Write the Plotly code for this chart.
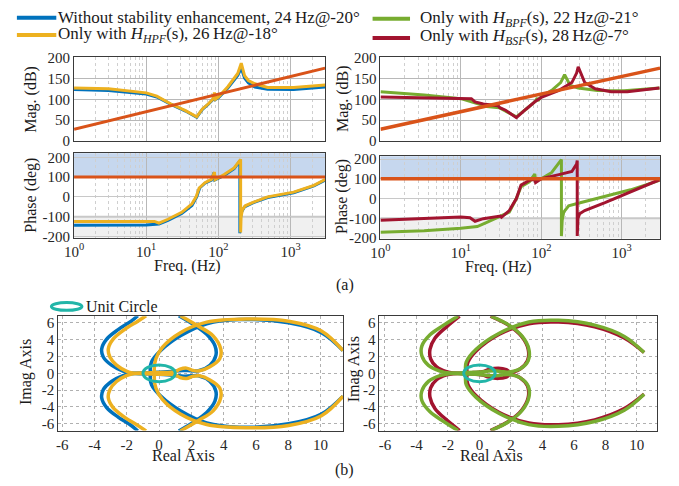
import plotly.graph_objects as go

W, H = 679, 486
FONT = "Liberation Serif"

# ---------------- DATA ----------------
# (a) left: magnitude (dB)
magL_f = [1, 3, 10, 14, 22, 35, 50, 60, 72, 84, 88, 91, 100, 135, 185, 207, 230, 260, 320, 480, 1100, 3000]
mag_blue = [124, 122, 113, 106, 88, 72, 57, 76, 88, 100, 114, 100, 104, 128, 158, 176, 152, 140, 130, 125, 124, 130]
mag_yellow = [128, 126, 116, 108, 89, 73, 58, 77, 89, 101, 117, 101, 106, 131, 163, 188, 158, 146, 138, 129, 129, 135]
mag_ref_f = [1, 3000]
mag_ref = [28, 176]

# (a) left: phase (deg)
phB_f = [1, 10, 15, 20, 31, 43, 50, 55, 65, 80, 87, 89, 120, 165, 198, 198, 201, 210, 230, 300, 480, 1100, 2100, 3000]
ph_blue = [-143, -142, -137, -119, -84, -44, 0, 45, 69, 85, 123, 85, 108, 142, 182, -184, -110, -75, -50, -30, -3, 21, 56, 85]
phY_f = [1, 10, 13, 15, 20, 31, 43, 49, 54, 65, 80, 88, 90, 120, 165, 203, 203, 206, 215, 235, 300, 480, 1100, 2100, 3000]
ph_yellow = [-125, -122, -124, -133, -113, -78, -35, 0, 45, 72, 88, 125, 88, 113, 146, 190, -180, -100, -65, -45, -28, 0, 24, 58, 88]
ph_ref_f = [1, 3000]
ph_ref = [100, 100]

# (a) right: magnitude (dB)
magG_f = [1, 3.5, 10, 14.5, 21, 30, 36, 49, 65, 85, 89, 91, 100, 135, 174, 195, 229, 288, 500, 1070, 2950]
mag_green = [119, 111, 102, 92, 83, 80, 72, 58, 77, 96, 104, 97, 107, 122, 141, 160, 134, 128, 122, 121, 128]
magR_f = [1, 10, 13.5, 15, 19, 29, 30.5, 36, 49, 65, 85, 100, 166, 240, 275, 288, 347, 468, 740, 1175, 2950]
mag_red = [106, 102, 102, 94, 89, 85, 80, 74, 56, 77, 96, 105, 122, 141, 164, 179, 141, 126, 119, 119, 128]

# (a) right: phase (deg)
phG_f = [1, 3.5, 10, 16, 21, 30, 40, 49, 56, 71, 83, 85, 100, 135, 178, 178, 182, 190, 219, 288, 620, 1290, 2950]
ph_green = [-171, -163, -150, -142, -121, -94, -69, 0, 60, 84, 124, 92, 100, 132, 197, -190, -110, -69, -37, -24, 11, 44, 92]
phR_f = [1, 10, 13, 15, 19, 25, 31, 32, 40, 49, 56, 71, 83, 85, 100, 166, 240, 275, 280, 280, 286, 300, 347, 620, 1290, 2950]
ph_red = [-110, -94, -97, -115, -102, -94, -89, -95, -61, 0, 68, 92, 97, 81, 100, 121, 137, 175, 192, -190, -100, -77, -61, -21, 35, 95]

# (b) left Nyquist (upper half; lower half is the complex conjugate)
nqB_re = [-1.32, -1.73, -2.54, -3.25, -3.56, -3.46, -2.95, -2.24, -1.73, -1.0, 0.0, 1.0, 1.5, 2.0, 2.44, 3.15, 3.52, 3.46, 2.95, 2.13, 1.22]
nqB_im = [6.85, 6.2, 5.2, 4.07, 2.9, 1.94, 0.97, 0.27, 0.04, 0.05, 0.12, 0.25, 0.35, 0.3, 0.3, 0.97, 2.13, 3.3, 4.65, 5.81, 6.85]
nqY_re = [-0.81, -1.32, -2.13, -2.85, -3.15, -3.05, -2.64, -2.03, -1.63, -1.0, 0.0, 1.0, 1.3, 1.7, 2.1, 2.5, 3.15, 3.76, 3.82, 3.35, 2.44, 1.32]
nqY_im = [6.85, 6.2, 5.23, 4.07, 2.9, 1.94, 0.97, 0.27, 0.04, 0.05, 0.1, 0.2, 0.5, 0.62, 0.35, 0.3, 0.78, 1.74, 2.9, 4.46, 5.6, 6.85]
elB_re = [11.4, 10.06, 8.03, 4.98, 2.95, 1.32, 0.1, -0.47, -0.55, -0.5]
elB_im = [2.71, 4.84, 6.0, 6.4, 5.9, 4.46, 2.71, 1.36, 0.39, 0.0]
elY_re = [11.4, 10.06, 8.03, 5.39, 2.95, 1.32, 0.2, -0.2, -0.3, -0.26]
elY_im = [2.71, 5.04, 6.2, 6.47, 6.09, 4.84, 3.1, 1.74, 0.39, 0.0]

# (b) right Nyquist
nqG_re = [-1.36, -2.3, -3.14, -3.66, -3.66, -3.24, -2.51, -1.88, -1.0, 0.0, 0.5, 1.0, 1.4, 1.88, 2.62, 3.1, 3.14, 2.72, 1.88, 0.73]
nqG_im = [6.8, 5.7, 4.58, 3.24, 2.1, 0.95, 0.27, 0.04, 0.08, 0.15, 0.25, 0.3, 0.2, 0.15, 0.57, 1.53, 2.86, 4.39, 5.73, 6.8]
nqR_re = [-1.26, -2.09, -2.82, -3.14, -3.1, -2.72, -2.09, -1.67, -0.5, 0.2, 0.6, 1.2, 1.7, 1.95, 2.6, 3.05, 3.1, 2.68, 1.84, 0.7]
nqR_im = [6.8, 5.53, 4.2, 2.86, 1.72, 0.76, 0.19, 0.04, 0.08, 0.2, 0.45, 0.6, 0.45, 0.15, 0.55, 1.5, 2.86, 4.39, 5.73, 6.8]
elG_re = [10.46, 9.2, 7.32, 5.02, 3.14, 1.26, -0.21, -0.84, -0.88, -0.84]
elG_im = [2.48, 4.39, 5.73, 6.3, 6.1, 4.77, 2.86, 1.34, 0.38, 0.0]
elR_re = [10.46, 9.2, 7.32, 5.02, 3.14, 1.26, -0.21, -0.73, -0.8, -0.75]
elR_im = [2.48, 4.2, 5.53, 6.1, 5.9, 4.66, 2.67, 1.34, 0.38, 0.0]
unit_radius = 1.0

# tick labels
freq_ticks = [1, 10, 100, 1000]
freq_ticktext = ["10<sup>0</sup>", "10<sup>1</sup>", "10<sup>2</sup>", "10<sup>3</sup>"]
mag_ticks = [0, 50, 100, 150, 200]
ph_ticks = [-200, -100, 0, 100, 200]
ph_ticktext = ["-200", "-100", "0", "100", "200"]
re_ticks = [-6, -4, -2, 0, 2, 4, 6, 8, 10]
re_ticktext = ["-6", "-4", "-2", "0", "2", "4", "6", "8", "10"]
im_ticks = [-6, -4, -2, 0, 2, 4, 6]
im_ticktext = ["-6", "-4", "-2", "0", "2", "4", "6"]

legend_labels = [
    "Without stability enhancement, 24\u2009Hz@-20°",
    "Only with <i>H</i><sub><i>HPF</i></sub>(s), 26\u2009Hz@-18°",
    "Only with <i>H</i><sub><i>BPF</i></sub>(s), 22\u2009Hz@-21°",
    "Only with <i>H</i><sub><i>BSF</i></sub>(s), 28\u2009Hz@-7°",
]

# ---------------- STYLE ----------------
BLUE, YEL, ORA, GRN, RED, TEAL = "#0072BD", "#EDB120", "#D95319", "#77AC30", "#A2142F", "#22B5A8"
LBLUE, LGRAY = "#C6D7EE", "#F0F0F0"
FRAME = "#3a3a3a"


def dx(a, b):
    return [a / W, b / W]


def dy(top, bot):
    return [1 - bot / H, 1 - top / H]


def mirror_open(re, im):
    return re + [None] + re, im + [None] + [-v for v in im]


def mirror_closed(re, im):
    return re + re[::-1], im + [-v for v in im[::-1]]


fig = go.Figure()


def add(x, y, color, xa, ya, width=3, shape="linear"):
    fig.add_trace(go.Scatter(x=x, y=y, mode="lines", xaxis=xa, yaxis=ya,
                             line=dict(color=color, width=width, shape=shape),
                             connectgaps=False, showlegend=False, hoverinfo="skip"))


# Bode left
add(magL_f, mag_blue, BLUE, "x", "y")
add(magL_f, mag_yellow, YEL, "x", "y")
add(mag_ref_f, mag_ref, ORA, "x", "y")
add(phB_f, ph_blue, BLUE, "x2", "y2")
add(phY_f, ph_yellow, YEL, "x2", "y2")
add(ph_ref_f, ph_ref, ORA, "x2", "y2")
# Bode right
add(magG_f, mag_green, GRN, "x3", "y3")
add(magR_f, mag_red, RED, "x3", "y3")
add(mag_ref_f, mag_ref, ORA, "x3", "y3", width=3.5)
add(phG_f, ph_green, GRN, "x4", "y4")
add(phR_f, ph_red, RED, "x4", "y4")
add(ph_ref_f, ph_ref, ORA, "x4", "y4", width=3.5)

# Nyquist left
x, y = mirror_open(nqB_re, nqB_im); add(x, y, BLUE, "x5", "y5", 3.5, "spline")
x, y = mirror_closed(elB_re, elB_im); add(x, y, BLUE, "x5", "y5", 3.5, "spline")
x, y = mirror_open(nqY_re, nqY_im); add(x, y, YEL, "x5", "y5", 3.5, "spline")
x, y = mirror_closed(elY_re, elY_im); add(x, y, YEL, "x5", "y5", 3.5, "spline")
# Nyquist right
x, y = mirror_open(nqR_re, nqR_im); add(x, y, RED, "x6", "y6", 3.5, "spline")
x, y = mirror_closed(elR_re, elR_im); add(x, y, RED, "x6", "y6", 3.5, "spline")
x, y = mirror_open(nqG_re, nqG_im); add(x, y, GRN, "x6", "y6", 3.5, "spline")
x, y = mirror_closed(elG_re, elG_im); add(x, y, GRN, "x6", "y6", 3.5, "spline")

tickfont = dict(family=FONT, size=15, color="#262626")
common = dict(showline=True, linecolor=FRAME, linewidth=1, mirror=True, zeroline=False,
              tickfont=tickfont, ticks="", fixedrange=True)
logx = dict(type="log", range=[0, 3.48], tickvals=freq_ticks, ticktext=freq_ticktext,
            showgrid=True, gridcolor="#b8b8b8", gridwidth=1,
            minor=dict(dtick="D1", showgrid=True, gridcolor="#cfcfcf", griddash="dot"), **common)

layout = dict(
    width=W, height=H, margin=dict(l=0, r=0, t=0, b=0),
    paper_bgcolor="white", plot_bgcolor="white", showlegend=False,
    font=dict(family=FONT, size=15, color="#262626"),
    xaxis=dict(domain=dx(65, 320), anchor="y", showticklabels=False, **logx),
    yaxis=dict(domain=dy(52, 138), anchor="x", range=[0, 202], tickvals=mag_ticks,
               showgrid=True, gridcolor="#b8b8b8", **common),
    xaxis2=dict(domain=dx(65, 320), anchor="y2", **logx),
    yaxis2=dict(domain=dy(151, 238), anchor="x2", range=[-206, 220], tickvals=ph_ticks, ticktext=ph_ticktext,
                showgrid=True, gridcolor="#c8c8c8", **common),
    xaxis3=dict(domain=dx(376, 660), anchor="y3", showticklabels=False, **logx),
    yaxis3=dict(domain=dy(52, 138), anchor="x3", range=[0, 202], tickvals=mag_ticks,
                showgrid=True, gridcolor="#b8b8b8", **common),
    xaxis4=dict(domain=dx(376, 660), anchor="y4", **logx),
    yaxis4=dict(domain=dy(154, 239), anchor="x4", range=[-203, 214], tickvals=ph_ticks, ticktext=ph_ticktext,
                showgrid=True, gridcolor="#c8c8c8", **common),
    xaxis5=dict(domain=dx(49, 338), anchor="y5", range=[-6.25, 11.4], tickvals=re_ticks, ticktext=re_ticktext,
                showgrid=True, gridcolor="#b0b0b0", griddash="dot", **common),
    yaxis5=dict(domain=dy(319, 437), anchor="x5", range=[-6.8, 6.8], tickvals=im_ticks, ticktext=im_ticktext,
                showgrid=True, gridcolor="#b0b0b0", griddash="dot", **common),
    xaxis6=dict(domain=dx(375, 657), anchor="y6", range=[-6.35, 11.3], tickvals=re_ticks, ticktext=re_ticktext,
                showgrid=True, gridcolor="#b0b0b0", griddash="dot", **common),
    yaxis6=dict(domain=dy(319, 437), anchor="x6", range=[-6.8, 6.8], tickvals=im_ticks, ticktext=im_ticktext,
                showgrid=True, gridcolor="#b0b0b0", griddash="dot", **common),
)
fig.update_layout(**layout)

shapes = []
for xr, yr in (("x2", "y2"), ("x4", "y4")):
    shapes.append(dict(type="rect", xref=xr + " domain", yref=yr, x0=0, x1=1, y0=100, y1=230,
                       fillcolor=LBLUE, line=dict(width=0), layer="below"))
    shapes.append(dict(type="rect", xref=xr + " domain", yref=yr, x0=0, x1=1, y0=-230, y1=-100,
                       fillcolor=LGRAY, line=dict(width=0), layer="below"))
    shapes.append(dict(type="line", xref=xr + " domain", yref=yr, x0=0, x1=1, y0=-100, y1=-100,
                       line=dict(color="#c8c8c8", width=2), layer="below"))
# unit circles
for xr, yr in (("x5", "y5"), ("x6", "y6")):
    shapes.append(dict(type="circle", xref=xr, yref=yr, x0=-unit_radius, x1=unit_radius,
                       y0=-unit_radius, y1=unit_radius, line=dict(color=TEAL, width=3)))

# legend line samples
def pline(x0, x1, yy, color):
    return dict(type="line", xref="paper", yref="paper", x0=x0 / W, x1=x1 / W,
                y0=1 - yy / H, y1=1 - yy / H, line=dict(color=color, width=4))

shapes += [pline(7, 47, 11, BLUE), pline(7, 47, 29, YEL), pline(368, 406, 12, GRN), pline(368, 406, 32, RED)]
shapes.append(dict(type="circle", xref="paper", yref="paper", x0=42 / W, x1=73 / W,
                   y0=1 - 313 / H, y1=1 - 305 / H, line=dict(color=TEAL, width=3)))
fig.update_layout(shapes=shapes)

ann = []
def text(s, x, y, size=16, angle=0, xanchor="center"):
    ann.append(dict(text=s, x=x / W, y=1 - y / H, xref="paper", yref="paper", showarrow=False,
                    xanchor=xanchor, yanchor="middle", textangle=angle,
                    font=dict(family=FONT, size=size, color="#1a1a1a")))

text(legend_labels[0], 47, 11, 17, xanchor="left")
text(legend_labels[1], 47, 29, 17, xanchor="left")
text(legend_labels[2], 414, 12, 17, xanchor="left")
text(legend_labels[3], 414, 31, 17, xanchor="left")
text("Mag. (dB)", 21, 95, 16, -90)
text("Phase (deg)", 21, 194, 16, -90)
text("Mag. (dB)", 338, 95, 16, -90)
text("Phase (deg)", 337, 196, 16, -90)
text("Freq. (Hz)", 180, 267, 16)
text("Freq. (Hz)", 496, 268, 16)
text("(a)", 340, 287, 16)
text("Unit Circle", 75, 309, 16, xanchor="left")
text("Imag Axis", 17, 377, 16, -90)
text("Imag Axis", 350, 374, 16, -90)
text("Real Axis", 176, 463, 16)
text("Real Axis", 489, 463, 16)
text("(b)", 340, 478, 16)
fig.update_layout(annotations=ann)

fig.write_html("out.html")
